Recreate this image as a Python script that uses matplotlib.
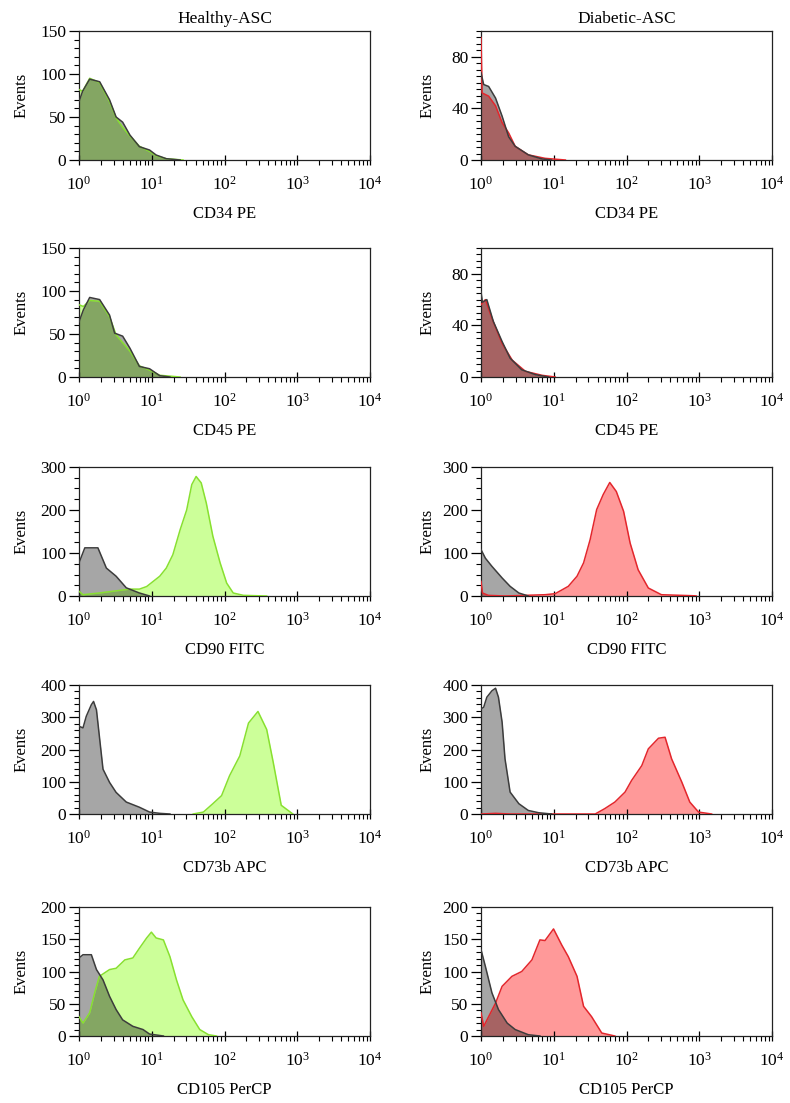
import numpy as np
import matplotlib
matplotlib.use("Agg")
import matplotlib.pyplot as plt
from matplotlib.ticker import MultipleLocator, LogLocator

# Schrift: Serif wie im Original
plt.rcParams['font.family'] = ['Liberation Serif', 'DejaVu Serif']
plt.rcParams['mathtext.fontset'] = 'custom'
plt.rcParams['mathtext.rm'] = 'Liberation Serif'
plt.rcParams['mathtext.it'] = 'Liberation Serif:italic'

# Spaltentitel und Achsenbeschriftungen
col_titles = ["Healthy-ASC", "Diabetic-ASC"]
markers = ["CD34 PE", "CD45 PE", "CD90 FITC", "CD73b APC", "CD105 PerCP"]

# y-Achsen: (max, major, minor) pro Zeile und Spalte
y_healthy = [(150, 50, 10), (150, 50, 10), (300, 100, 25), (400, 100, 20), (200, 50, 10)]
y_diabetic = [(100, 40, 5), (100, 40, 5), (300, 100, 25), (400, 100, 20), (200, 50, 10)]

# Histogramme, x als log10(Intensitaet), y als Events
# --- Healthy ---
h34_ctrl_x = [0, 0.05, 0.147, 0.284, 0.42, 0.51, 0.6, 0.7, 0.83, 0.97, 1.06, 1.2, 1.39]
h34_ctrl_y = [68, 80, 94, 91, 70, 50, 44, 29, 15.5, 11.6, 5.8, 1.5, 0]
h34_stain_x = [0, 0.05, 0.147, 0.284, 0.42, 0.51, 0.6, 0.7, 0.83, 0.97, 1.06, 1.2, 1.43]
h34_stain_y = [82, 80, 95, 90, 68, 49, 38, 28, 16, 10, 5, 1.5, 0]

h45_ctrl_x = [0, 0.06, 0.147, 0.284, 0.42, 0.49, 0.6, 0.7, 0.83, 0.97, 1.11, 1.25]
h45_ctrl_y = [64, 78, 92.5, 90, 72, 51, 47.5, 33.5, 12.3, 9.6, 1.5, 0]
h45_stain_x = [0, 0.06, 0.147, 0.284, 0.42, 0.51, 0.6, 0.7, 0.83, 0.97, 1.11, 1.39]
h45_stain_y = [84, 82, 89, 88, 70, 49, 40, 30, 13, 8, 2, 0]

h90_ctrl_x = [0, 0.08, 0.26, 0.376, 0.51, 0.65, 0.83, 0.97]
h90_ctrl_y = [77, 112, 112, 65, 46, 19, 7, 0]
h90_stain_x = [0, 0.055, 0.28, 0.51, 0.70, 0.83, 0.93, 1.11, 1.2, 1.29, 1.39, 1.48, 1.55,
               1.61, 1.68, 1.75, 1.84, 1.94, 2.03, 2.12, 2.26, 2.58]
h90_stain_y = [11, 3, 7, 12, 16, 16, 22, 46, 65, 96, 154, 200, 259,
               278, 263, 216, 139, 77, 30, 7, 1.5, 0]

h73_ctrl_x = [0, 0.055, 0.1, 0.17, 0.2, 0.24, 0.28, 0.33, 0.42, 0.51, 0.65, 0.83, 0.97, 1.11, 1.25]
h73_ctrl_y = [272, 267, 303, 339, 349, 323, 241, 139, 98, 67, 37, 21, 6, 2, 0]
h73_stain_x = [1.57, 1.71, 1.84, 1.96, 2.07, 2.21, 2.33, 2.46, 2.58, 2.67, 2.78, 2.94]
h73_stain_y = [0, 6, 32, 57, 119, 180, 282, 318, 262, 160, 27, 0]

h105_ctrl_x = [0, 0.055, 0.17, 0.24, 0.33, 0.42, 0.51, 0.6, 0.74, 0.88, 0.97, 1.16]
h105_ctrl_y = [121, 126, 126, 103, 87, 61.5, 41, 25, 15, 10, 3, 0]
h105_stain_x = [0, 0.055, 0.147, 0.216, 0.28, 0.42, 0.51, 0.63, 0.74, 0.83, 0.93, 0.995,
                1.06, 1.16, 1.25, 1.34, 1.43, 1.55, 1.66, 1.78, 1.89]
h105_stain_y = [30, 20, 36, 67, 92.5, 103, 105, 118, 121, 136, 152, 161,
                152, 149, 123, 87, 56, 30, 10, 2, 0]

# --- Diabetic ---
d34_ctrl_x = [0, 0.037, 0.105, 0.2, 0.29, 0.38, 0.47, 0.65, 0.84, 0.97]
d34_ctrl_y = [67.6, 58.5, 57, 48, 34, 18, 10.6, 4, 0.8, 0]
d34_stain_x = [0, 0.015, 0.105, 0.2, 0.29, 0.38, 0.47, 0.65, 0.88, 1.16]
d34_stain_y = [95, 52, 49.5, 42, 29, 21, 10.6, 4, 1.3, 0]

d45_ctrl_x = [0, 0.02, 0.08, 0.17, 0.29, 0.4, 0.56, 0.75, 0.93]
d45_ctrl_y = [66, 58, 60, 43, 27.5, 14.6, 5.6, 1.8, 0]
d45_stain_x = [0, 0.06, 0.15, 0.29, 0.43, 0.61, 0.84, 1.02]
d45_stain_y = [56, 60, 45.5, 26, 13, 4.4, 1.3, 0]

d90_ctrl_x = [0, 0.06, 0.15, 0.29, 0.4, 0.52, 0.65]
d90_ctrl_y = [108, 88, 69, 42, 22.5, 7, 0]
d90_stain_x = [0, 0.02, 0.1, 0.33, 0.88, 1.02, 1.2, 1.32, 1.41, 1.5, 1.59, 1.68, 1.77,
               1.86, 1.96, 2.05, 2.16, 2.3, 2.48, 2.94, 2.96]
d90_stain_y = [34, 7, 1.5, 0, 3, 5.4, 22.5, 46, 77, 131, 201, 236, 264,
               243, 197, 123, 61, 18.6, 3, 0.5, 0]

d73_ctrl_x = [0, 0.037, 0.08, 0.15, 0.2, 0.24, 0.29, 0.33, 0.4, 0.52, 0.65, 0.79, 0.97]
d73_ctrl_y = [326, 331, 362, 382, 390, 362, 285, 171, 68, 32, 11, 4, 0]
d73_stain_x = [0, 0.2, 0.4, 1.57, 1.7, 1.84, 1.98, 2.07, 2.21, 2.3, 2.44, 2.53, 2.62,
               2.76, 2.87, 2.99, 3.17]
d73_stain_y = [0, 2, 0, 0, 16.5, 37, 68, 104, 150, 202, 235, 238, 171,
               99, 37, 6, 0]

d105_ctrl_x = [0, 0.06, 0.15, 0.24, 0.36, 0.47, 0.65, 0.81]
d105_ctrl_y = [134, 108, 67, 41, 20, 10, 2, 0]
d105_stain_x = [0, 0.037, 0.105, 0.2, 0.29, 0.425, 0.56, 0.7, 0.81, 0.88, 0.997, 1.11,
                1.2, 1.32, 1.41, 1.52, 1.66, 1.84]
d105_stain_y = [36, 15, 30, 51, 77, 92.5, 100, 118, 149, 148, 166, 141,
                123, 92.5, 46, 30, 4.6, 0]

healthy = [
    (h34_ctrl_x, h34_ctrl_y, h34_stain_x, h34_stain_y),
    (h45_ctrl_x, h45_ctrl_y, h45_stain_x, h45_stain_y),
    (h90_ctrl_x, h90_ctrl_y, h90_stain_x, h90_stain_y),
    (h73_ctrl_x, h73_ctrl_y, h73_stain_x, h73_stain_y),
    (h105_ctrl_x, h105_ctrl_y, h105_stain_x, h105_stain_y),
]
diabetic = [
    (d34_ctrl_x, d34_ctrl_y, d34_stain_x, d34_stain_y),
    (d45_ctrl_x, d45_ctrl_y, d45_stain_x, d45_stain_y),
    (d90_ctrl_x, d90_ctrl_y, d90_stain_x, d90_stain_y),
    (d73_ctrl_x, d73_ctrl_y, d73_stain_x, d73_stain_y),
    (d105_ctrl_x, d105_ctrl_y, d105_stain_x, d105_stain_y),
]

# Farben
fill_colors = ['#ccff99', '#ff9999']
edge_colors = ['#88e030', '#e3262c']
ctrl_edge = '#3c3c3c'

W, H = 790, 1103
fig = plt.figure(figsize=(W / 100, H / 100), dpi=100)

col_left = [79, 481]
ax_w = 291
ax_h = 129
row_tops = [31, 248, 467, 685, 907]

for col, (panels, ylims) in enumerate([(healthy, y_healthy), (diabetic, y_diabetic)]):
    for row, (cx, cy, sx, sy) in enumerate(panels):
        left = col_left[col] / W
        bottom = 1 - (row_tops[row] + ax_h) / H
        ax = fig.add_axes([left, bottom, ax_w / W, ax_h / H])

        cx = 10 ** np.array(cx)
        sx = 10 ** np.array(sx)

        # gefaerbte Probe zuerst, Isotyp-Kontrolle halbtransparent darueber
        ax.fill_between(sx, sy, 0, color=fill_colors[col], lw=0, zorder=1)
        ax.fill_between(cx, cy, 0, color='black', alpha=0.35, lw=0, zorder=2)
        ax.plot(sx, sy, color=edge_colors[col], lw=1.1, zorder=3)
        ax.plot(cx, cy, color=ctrl_edge, lw=1.1, zorder=4)

        ax.set_xscale('log')
        ax.set_xlim(1, 1e4)
        ymax, ymaj, ymin = ylims[row]
        ax.set_ylim(0, ymax)
        ax.yaxis.set_major_locator(MultipleLocator(ymaj))
        ax.yaxis.set_minor_locator(MultipleLocator(ymin))
        ax.xaxis.set_major_locator(LogLocator(base=10, numticks=10))
        ax.xaxis.set_minor_locator(LogLocator(base=10, subs=np.arange(2, 10), numticks=10))

        ax.tick_params(axis='y', which='major', direction='out', length=7, width=0.9,
                       labelsize=12.5, pad=2)
        ax.tick_params(axis='y', which='minor', direction='out', length=3.5, width=0.8)
        ax.tick_params(axis='x', which='major', direction='inout', length=7, width=0.9,
                       labelsize=12.5, pad=8)
        ax.tick_params(axis='x', which='minor', direction='out', length=3.5, width=0.8)
        for s in ax.spines.values():
            s.set_linewidth(0.9)
            s.set_color('#222222')

        ax.set_ylabel('Events', fontsize=12)
        ax.yaxis.set_label_coords(-0.17 if col == 0 else -0.155, 0.5)
        ax.set_xlabel(markers[row], fontsize=12)
        ax.xaxis.set_label_coords(0.5, -0.36)

        if row == 0:
            ax.set_title(col_titles[col], fontsize=12.5, pad=6)

plt.savefig('out.png', dpi=100)
